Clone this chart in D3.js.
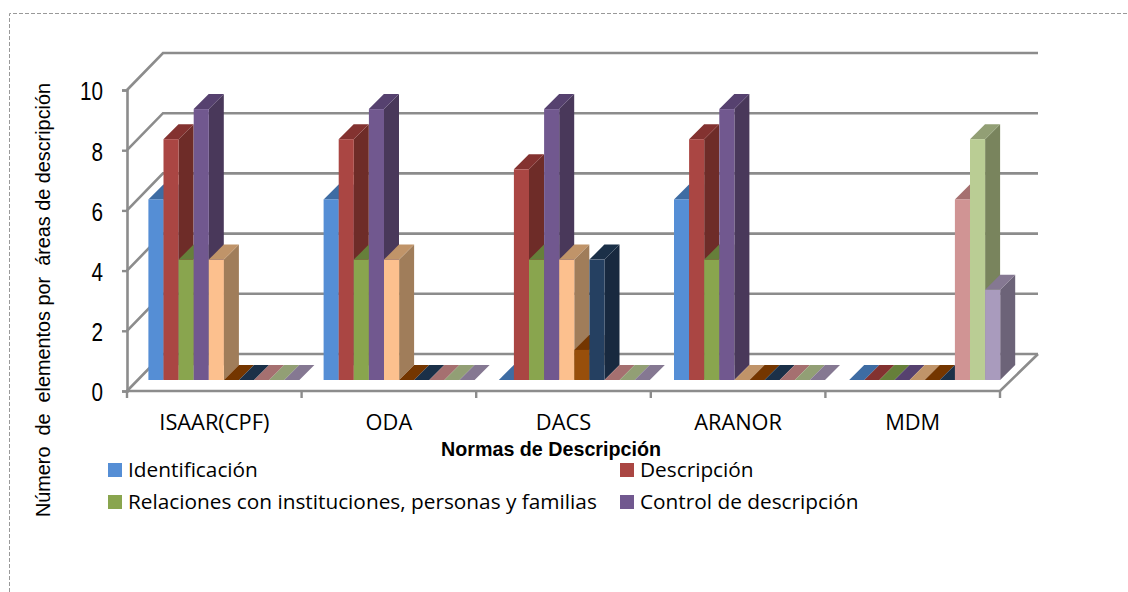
<!DOCTYPE html>
<html>
<head>
<meta charset="utf-8">
<script src="https://cdn.jsdelivr.net/npm/d3@7"></script>
<style>
  html, body { margin: 0; padding: 0; background: #fff; }
  svg { display: block; }
  text { fill: #000; }
</style>
</head>
<body>
<div id="chart"></div>
<script>
const categories = ["ISAAR(CPF)", "ODA", "DACS", "ARANOR", "MDM"];
const yTicks = [0, 2, 4, 6, 8, 10];

const identificacion = [6, 6, 0, 6, 0];
const descripcion = [8, 8, 7, 8, 0];
const relaciones = [4, 4, 4, 4, 0];
const control = [9, 9, 9, 9, 0];
const serie5 = [4, 4, 4, 0, 0];
const serie6 = [0, 0, 1, 0, 0];
const serie7 = [0, 0, 4, 0, 0];
const serie8 = [0, 0, 0, 0, 6];
const serie9 = [0, 0, 0, 0, 8];
const serie10 = [0, 0, 0, 0, 3];

const allSeries = [identificacion, descripcion, relaciones, control, serie5, serie6, serie7, serie8, serie9, serie10];
const frontColors = ["#558ed5", "#aa4643", "#89a54e", "#71588f", "#fcc08e", "#984f0b", "#254061", "#d09494", "#bacd94", "#a99bbd"];
const topColors = ["#3e6ca3", "#833230", "#667f3a", "#56416f", "#c09469", "#743600", "#1b3048", "#a57070", "#929f75", "#857892"];
const sideColors = ["#2f5480", "#6e2c28", "#566b30", "#49385a", "#a07d5a", "#5f2c00", "#18293f", "#885c5c", "#79845d", "#6c6378"];

const legendNames = ["Identificación", "Descripción", "Relaciones con instituciones, personas y familias", "Control de descripción"];

const width = 1128;
const height = 592;
const wallDepth = 37;   // oblique offset of the back wall
const barDepth = 15;    // oblique depth of a bar
const barLift = 11;     // bars stand this far behind the front edge

const svg = d3.select("#chart")
    .append("svg")
    .attr("width", width)
    .attr("height", height);

// dashed frame, open on the right and bottom
svg.append("path")
    .attr("d", d3.line()([[9.5, height], [9.5, 13.5], [width, 13.5]]))
    .attr("fill", "none")
    .attr("stroke", "#999")
    .attr("stroke-dasharray", "4,2");

const y = d3.scaleLinear().domain([0, 10]).range([391, 90]);
const x = d3.scaleBand().domain(categories).range([127, 1000]);
const xBars = d3.scaleBand().domain(categories).range([136, 1012]);
const xSeries = d3.scaleBand().domain(d3.range(allSeries.length)).range([12.4, 163.4]);

const gridColor = "#8c8c8c";
const grid = svg.append("g")
    .attr("fill", "none")
    .attr("stroke", gridColor)
    .attr("stroke-width", 2.6);

// back wall lines and left wall diagonals
grid.selectAll(".back")
    .data(yTicks)
    .enter()
    .append("path")
    .attr("class", "back")
    .attr("d", d => d3.line()([
        [127, y(d)],
        [127 + wallDepth - 1, y(d) - wallDepth],
        [1000 + wallDepth + 1, y(d) - wallDepth]
    ]));

// floor edges
grid.append("path")
    .attr("d", d3.line()([[127, y(0)], [1000, y(0)], [1000 + wallDepth + 1, y(0) - wallDepth]]));

// bars, painted left to right so the later fronts cover earlier sides
const barsLayer = svg.append("g");
categories.forEach((cat, c) => {
    allSeries.forEach((values, s) => {
        const v = values[c];
        const x0 = xBars(cat) + xSeries(s);
        const x1 = x0 + xSeries.bandwidth();
        const yTop = y(v) - barLift;
        const yBase = y(0) - barLift;
        const d = barDepth;
        const g = barsLayer.append("g");
        if (v > 0) {
            g.append("path")
                .attr("d", d3.line()([[x1, yTop], [x1 + d, yTop - d], [x1 + d, yBase - d], [x1, yBase]]) + "Z")
                .attr("fill", sideColors[s]);
        }
        g.append("path")
            .attr("d", d3.line()([[x0, yTop], [x0 + d, yTop - d], [x1 + d, yTop - d], [x1, yTop]]) + "Z")
            .attr("fill", topColors[s]);
        if (v > 0) {
            g.append("rect")
                .attr("x", x0)
                .attr("y", yTop)
                .attr("width", x1 - x0)
                .attr("height", yBase - yTop)
                .attr("fill", frontColors[s]);
        }
    });
});

// axes
const yAxis = svg.append("g")
    .attr("transform", "translate(127,0)")
    .call(d3.axisLeft(y).tickValues(yTicks).tickSize(5).tickPadding(19));
yAxis.select(".domain").attr("stroke", gridColor).attr("stroke-width", 2.6);
yAxis.selectAll("line").attr("stroke", gridColor).attr("stroke-width", 2.4);
yAxis.selectAll("text")
    .attr("font-family", "'Liberation Sans', sans-serif")
    .attr("font-size", 26)
    .attr("dy", "0.38em")
    .attr("textLength", d => String(d).length * 11.5)
    .attr("lengthAdjust", "spacingAndGlyphs");

const xAxis = svg.append("g")
    .attr("transform", `translate(0,${y(0)})`)
    .call(d3.axisBottom(x).tickSize(0).tickPadding(24));
xAxis.select(".domain").remove();
xAxis.selectAll("text")
    .attr("font-family", "'Open Sans', sans-serif")
    .attr("font-size", 21.8);

xAxis.selectAll(".edge")
    .data(d3.range(categories.length + 1))
    .enter()
    .append("line")
    .attr("class", "edge")
    .attr("x1", d => 127 + d * x.step())
    .attr("x2", d => 127 + d * x.step())
    .attr("y1", 0)
    .attr("y2", 7)
    .attr("stroke", gridColor)
    .attr("stroke-width", 2.4);

// axis titles
svg.append("text")
    .attr("x", 441)
    .attr("y", 456)
    .attr("textLength", 220)
    .attr("lengthAdjust", "spacingAndGlyphs")
    .attr("font-family", "'Liberation Sans', sans-serif")
    .attr("font-weight", "bold")
    .attr("font-size", 21)
    .text("Normas de Descripción");

svg.append("text")
    .attr("transform", "translate(50,517) rotate(-90)")
    .attr("textLength", 434)
    .attr("lengthAdjust", "spacingAndGlyphs")
    .attr("font-family", "'Liberation Sans', sans-serif")
    .attr("font-size", 21)
    .attr("xml:space", "preserve")
    .text("Número  de  elementos por  áreas de descripción");

// legend, two rows of two
const legendX = [108, 620];
const legendY = [463, 495];
const legend = svg.selectAll(".legend")
    .data(legendNames)
    .enter()
    .append("g")
    .attr("class", "legend")
    .attr("transform", (d, i) => `translate(${legendX[i % 2]},${legendY[Math.floor(i / 2)]})`);

legend.append("rect")
    .attr("width", 14)
    .attr("height", 14)
    .attr("fill", (d, i) => frontColors[i]);

legend.append("text")
    .attr("x", 20)
    .attr("y", 14)
    .attr("font-family", "'Open Sans', sans-serif")
    .attr("font-size", 20.8)
    .text(d => d);
</script>
</body>
</html>
